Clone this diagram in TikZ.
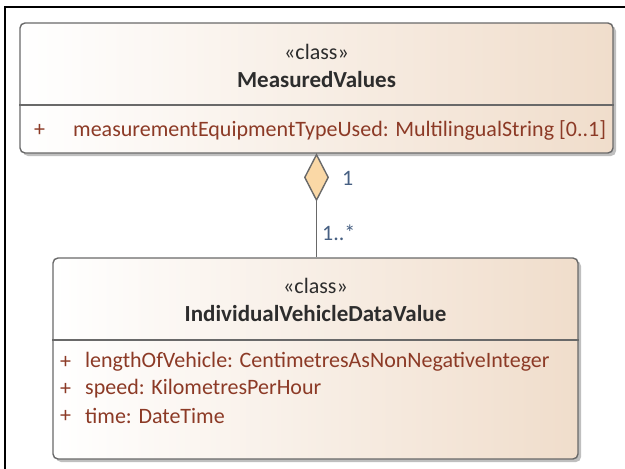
\documentclass[tikz,border=0pt]{standalone}
\usepackage{fontspec}
\setmainfont{Carlito}
\usepackage{xcolor}
\usepackage{tikz}
\usetikzlibrary{shapes.geometric, positioning, calc, shadows}
\definecolor{umlpeach}{RGB}{240, 221, 203}
\definecolor{umlborder}{RGB}{105, 105, 105}
\definecolor{umltext}{RGB}{45, 45, 45}
\definecolor{umlattr}{RGB}{140, 58, 38}
\definecolor{umlmult}{RGB}{70, 95, 130}
\definecolor{umldiamond}{RGB}{250, 216, 166}

\tikzset{
    classbox/.style={draw=umlborder, line width=1.4pt, rounded corners=5pt,
        left color=white, right color=umlpeach, inner sep=0pt,
        drop shadow={shadow xshift=3pt, shadow yshift=-3pt, fill=black, opacity=0.25}},
    stereo/.style={text=umltext, font=\fontsize{22}{26}\selectfont},
    classname/.style={text=umltext, font=\fontsize{23}{27}\selectfont\bfseries},
    attr/.style={text=umlattr, anchor=west, inner sep=0pt, font=\fontsize{22}{26}\selectfont},
    mult/.style={text=umlmult, anchor=west, inner sep=0pt, font=\fontsize{22}{26}\selectfont},
    aggdiamond/.style={diamond, draw=umlborder, line width=1.4pt, fill=umldiamond,
        minimum width=24pt, minimum height=46pt, inner sep=0pt},
}

\begin{document}
\begin{tikzpicture}[x=1pt, y=-1pt]
    \useasboundingbox (0,0) rectangle (625,469);
    \draw[line width=1.5pt] (5,469) -- (5,7) -- (625,7);

    % upper class
    \node[classbox, minimum width=593pt, minimum height=130pt] (measured) at (316.5,88) {};
    \draw[umlborder, line width=1.4pt] (measured.west |- 0,105) -- (measured.east |- 0,105);
    \node[stereo] (measuredst) at (316.5,52) {«class»};
    \node[classname] (measuredname) at (316.5,80) {MeasuredValues};
    \node[attr] (measuredplus) at (34,130) {+};
    \node[attr] (measuredattr) at (73,130) {measurementEquipmentTypeUsed: MultilingualString [0..1]};

    % lower class
    \node[classbox, minimum width=525pt, minimum height=201pt] (vehicle) at (315.5,358.5) {};
    \draw[umlborder, line width=1.4pt] (vehicle.west |- 0,340) -- (vehicle.east |- 0,340);
    \node[stereo] (vehiclest) at (315.5,286) {«class»};
    \node[classname] (vehiclename) at (315.5,314) {IndividualVehicleDataValue};
    \foreach \name/\row/\txt in {len/362/{lengthOfVehicle: CentimetresAsNonNegativeInteger},
                                 spd/389/{speed: KilometresPerHour},
                                 tim/416/{time: DateTime}} {
        \node[attr] (\name plus) at (60,\row) {+};
        \node[attr] (\name) at (85,\row) {\txt};
    }

    % aggregation
    \node[aggdiamond, anchor=north] (agg) at (measured.south) {};
    \draw[umlborder, line width=1.4pt] (agg.south) -- (agg.south |- vehicle.north);
    \node[mult] (multone) at (342,178) {1};
    \node[mult] (multmany) at (322,233) {1..*};
\end{tikzpicture}
\end{document}
